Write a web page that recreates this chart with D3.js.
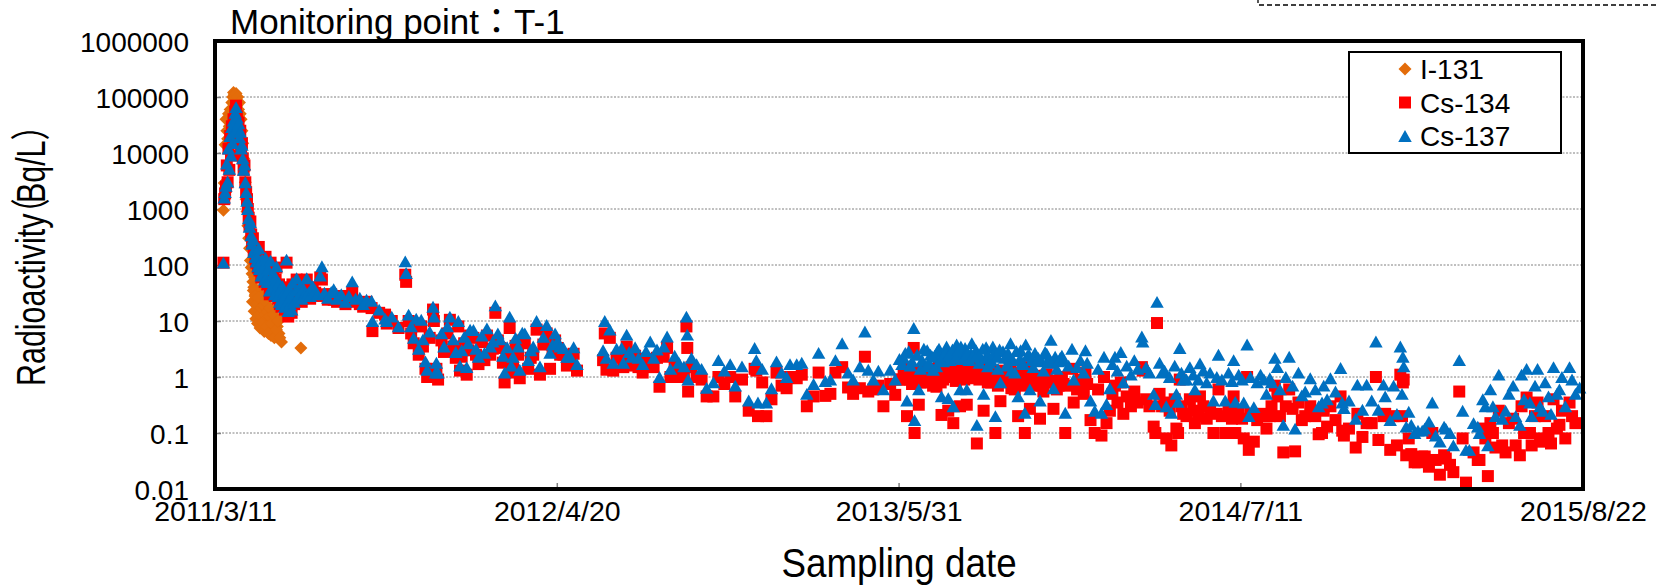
<!DOCTYPE html>
<html><head><meta charset="utf-8">
<script src="https://cdn.jsdelivr.net/npm/d3@7"></script>
<style>
body{margin:0;background:#fff}
svg{display:block}
text{font-family:"Liberation Sans",Arial,"Noto Sans CJK JP",sans-serif;fill:#000}
</style>
</head><body>
<svg id="chart" width="1657" height="586"></svg>
<script>
// ---------------- data ----------------
const titleText = "Monitoring point\uFF1AT-1";
const yTitleParts = ["Radioactivity", "\uFF08", "Bq/L", "\uFF09"];
const xTitle = "Sampling date";
const startDay = "2011-03-11";           // day 0 of the offsets below
const endDay = "2015-08-22";
const xTickDays = ["2011-03-11","2012-04-20","2013-05-31","2014-07-11","2015-08-22"];
const yTickValues = [0.01,0.1,1,10,100,1000,10000,100000,1000000];
const seriesNames = ["I-131","Cs-134","Cs-137"];
const seriesColors = ["#E36C0A","#FF0000","#0070C0"];

// [days after 2011-03-11, Bq/L]
const i131 = [[10,950],[11,2900],[12,14000],[13,40000],[14,25000],[15,18000],[16,50000],[17,30000],[18,60000],[19,45000],[20,80000],[21,100000],[22,120000],[23,110000],[24,90000],[25,115000],[26,70000],[27,100000],[28,60000],[29,80000],[30,50000],[31,40000],[32,25000],[33,15000],[34,8000],[35,5000],[36,3000],[37,1500],[38,900],[39,500],[40,300],[41,200],[42,120],[43,90],[44,70],[45,50],[46,40],[47,60],[48,30],[49,25],[50,35],[51,18],[52,22],[53,14],[54,30],[55,12],[56,18],[57,10],[58,15],[59,8],[60,12],[61,20],[62,9],[63,13],[64,7],[65,11],[66,8],[67,14],[68,6.5],[69,10],[70,7],[71,9],[72,5.5],[74,8],[76,6],[78,11],[79,4.2],[102,3.3],
[44.5,22],[45.5,35],[46.5,15],[47.5,28],[48.5,11],[49.5,20],[50.5,9],[51.5,26],[52.5,13],[53.5,7.5],[54.5,17],[55.5,24],[56.5,9.5],[57.5,19],[58.5,6.5],[59.5,13],[60.5,22],[61.5,8],[62.5,15],[63.5,6],[64.5,12],[65.5,17],[66.5,5.5],[67.5,9],[69.5,13],[70.5,5],[73,7],[75,10],[77,5]];

const cs134 = [[10,110],[11,1500],[12,1900],[13,2500],[14,6000],[15,3000],[16,12000],[17,5000],[18,20000],[19,9000],[20,30000],[21,15000],[22,40000],[23,25000],[24,55000],[25,70000],[26,45000],[27,30000],[28,35000],[29,20000],[30,25000],[31,12000],[32,15000],[33,8000],[34,5000],[35,6000],[36,3000],[37,2000],[38,1500],[39,1000],[40,700],[41,500],[42,600],[43,350],[44,250],[45,300],[46,180],[47,200],[48,130],[49,110],[50,150],[51,90],[52,210],[53,80],[54,120],[55,60],[56,130],[57,70],[58,90],[59,50],[60,140],[61,55],[62,45],
[63,80],[64,45],[65,30],[66,110],[67,50],[68,35],[69,65],[70,40],[71,28],[72,55],[73,90],[74,35],[75,25],[76,45],[77,20],[78,35],[79,18],[80,40],[81,22],[82,30],[83,16],[84,28],[85,110],[86,20],[87,12],[88,35],[89,18],[90,25],[91,14],[92,45],[94,20],[96,30],[97,55],[99,25],[101,40],[103,22],[105,35],[107,28],[109,55],[111,30],[113,25],[116,40],[119,32],[122,28],[125,60],[127,55],[130,30],[134,24],[138,30],[141,24],[145,22],[150,28],[155,20],[159,25],[163,32],[167,22],[172,20],[176,18],[180,22],[186,17],[187,6.6],[195,14],[202,13],[204,9],[210,10],[218,7.5],[226,67],[227,50],[230,10],[233,6],[236,4],[239,9],[242,2.5],[245,8],[247,3.5],[250,1.4],[252,1.0],[255,5],[259,16],[260,10],[262,1.1],[263,1.4],[265,0.9],[269,4.5],[272,2.8],[276,6],[279,10.5],[283,3.5],[286,2.2],[289,8],[291,1.3],[293,2.3],[296,4],[299,1.1],[301,3],[303,5.5],[307,5],[310,2.5],[313,1.7],[317,4.2],[320,2],[323,5.5],[327,2.5],[330,3.2],[333,14],[336,4.5],[339,3.3],[342,1.8],[344,0.8],[347,2.6],[350,7.5],[352,1.2],[354,1.5],[357,3.6],[360,2.5],[362,0.95],[365,4.5],[368,4],[372,1.4],[375,2.2],[378,2.5],[382,7],[386,1.1],[390,3.8],[394,6],[398,1.4],[401,2.8],[404,4.5],[407,3.3],[410,2.5],[414,2.5],[418,1.6],[422,1.7],[426,2.6],[430,1.3],
[461,2.0],[463,6],[465,1.35],[469,5],[473,1.3],[477,2.2],[483,2.6],[485,1.5],[489,3.5],[492,1.9],[495,1.6],[499,2.4],[503,1.5],[508,1.2],[512,2.1],[517,1.8],[521,1.5],[525,2.2],[528,0.67],[533,2.3],[537,3.3],[541,1.0],[546,1.6],[551,1.0],[557,1.1],[560,8],[561,3.3],[562,0.55],[566,1.5],[572,1.0],[578,0.9],[584,0.45],[592,0.45],[598,1.0],[605,0.75],[612,1.0],[618,0.45],[626,0.9],[634,0.25],[641,1.4],[643,1.3],[645,0.2],[650,0.8],[655,0.2],[661,0.4],[667,1.2],[673,0.7],[679,0.63],[683,1.0],[691,0.95],[697,1.1],[703,0.3],[711,0.45],[717,1.2],[725,0.46],[731,0.5],[737,1.2],[745,1.5],[752,0.65],[758,0.5],[766,0.63],[772,2.3],[776,0.55],[782,0.6],[788,0.7],[794,0.3],[802,0.75],[808,0.48],[816,0.9],[818,1.1],[820,1.5],[822,0.2],[826,0.9],[830,3.3],[831,0.1],[834,1.2],[836,0.32],[838,0.8],[840,1.0],[844,0.8],[846,1.4],[848,0.9],[850,1.2],[853,0.7],[855,1.2],[857,0.67],[860,1.5],[863,0.21],[865,0.9],[867,1.1],[869,1.6],[871,0.25],[873,1.0],[875,1.2],[877,0.15],[879,1.2],[881,1.7],[885,0.3],[887,1.0],[889,1.3],[891,1.5],[893,0.32],[896,1.0],[898,1.2],[899,1.6],[902,1.1],[904,1.3],[905,0.065],[908,0.9],[910,1.0],[913,0.25],[915,1.1],[916,1.5],[918,0.8],[920,0.9],[924,1.3],[927,0.1],[930,0.7],[933,0.37],[936,1.3],[940,0.8],[944,1.0],[945,1.6],[946,0.63],[950,0.6],[954,0.2],[957,1.2],[960,0.8],[962,0.1],[963,1.5],[965,1.0],[968,0.27],[972,0.7],[976,0.9],[980,0.18],[984,0.55],[988,1.1],[992,0.8],[993,1.8],[996,0.27],[1000,0.6],[1004,1.0],[1010,0.1],[1014,0.7],[1018,1.4],[1020,0.35],[1024,0.6],[1028,0.9],[1032,0.5],[1034,1.2],[1036,0.75],[1040,0.17],[1045,0.1],[1049,0.6],[1053,0.09],[1056,1.0],[1059,0.15],
[1063,0.25],[1066,0.5],[1069,0.7],[1072,0.35],[1076,0.8],[1079,0.22],[1083,0.45],[1088,0.3],[1092,0.55],[1096,0.35],[1101,1.5],[1102,1.3],[1106,0.4],[1110,0.3],[1115,0.13],[1117,0.1],[1119,9.2],[1122,0.5],[1125,0.3],[1128,0.35],[1130,0.08],[1134,0.25],[1136,0.06],[1140,0.4],[1142,0.12],[1144,0.1],[1146,0.9],[1148,0.3],[1150,0.22],[1154,0.2],[1158,0.4],[1162,0.25],[1164,0.15],[1168,0.2],[1170,0.45],[1174,0.3],[1178,0.18],[1182,0.25],[1186,0.1],[1190,0.22],[1192,0.6],[1196,0.2],[1200,0.1],[1204,0.28],[1208,0.18],[1210,0.45],[1212,0.1],[1216,0.25],[1220,0.18],[1222,0.08],[1226,1.0],[1228,0.05],[1230,0.22],[1234,0.07],[1238,0.17],[1242,0.22],[1246,0.2],[1249,0.12],
[1253,0.2],[1255,0.3],[1259,0.7],[1262,0.45],[1265,0.2],[1269,0.045],[1272,0.3],[1276,0.6],[1280,0.27],[1283,0.047],[1287,0.35],[1291,0.17],[1295,0.2],[1301,0.3],[1307,0.2],[1311,0.095],[1315,0.1],[1317,0.25],[1321,0.13],[1325,0.3],[1331,0.17],[1337,0.45],[1339,0.11],[1341,0.09],[1347,0.12],[1355,0.055],[1357,0.22],[1363,0.085],[1368,0.15],[1374,0.15],[1379,1.0],[1382,0.075],[1388,0.2],[1390,0.22],[1396,0.05],[1400,0.2],[1404,0.06],[1408,1.1],[1410,0.2],[1411,0.8],[1412,0.9],
[1415,0.04],[1418,0.08],[1421,0.042],[1425,0.03],[1429,0.03],[1434,0.038],[1437,0.038],[1442,0.025],[1446,0.1],[1450,0.033],[1455,0.018],[1460,0.04],[1462,0.035],[1467,0.027],[1471,0.02],[1478,0.55],[1482,0.08],[1486,0.013],[1495,0.045],[1500,0.033],[1502,0.033],[1506,0.12],[1509,0.08],[1512,0.017],[1515,0.15],[1518,0.1],[1521,0.055],[1525,0.25],[1529,0.06],[1533,0.045],[1537,0.15],[1542,0.18],[1545,0.06],[1550,0.04],[1552,0.3],[1555,0.1],[1558,0.43],[1562,0.1],[1564,0.06],[1568,0.2],[1571,0.35],[1574,0.08],[1577,0.07],[1580,0.2],[1584,0.1],[1587,0.065],[1590,0.4],[1594,0.12],[1597,0.14],[1600,0.25],[1604,0.08],[1609,0.35],[1612,0.2],[1616,0.15],
[813,0.9],[824,1.1],[828,0.75],[842,1.3],[852,0.9],[858,1.15],[862,0.8],[868,1.1],[872,1.0],[876,1.25],[880,0.85],[883,1.2],[886,1.4],[890,0.9],[894,1.05],[900,0.95],[906,1.0],[912,1.3],[919,0.95],[922,0.8],[926,1.1],[929,0.9],[932,1.2],[938,0.85],[942,1.05],[948,0.8],[952,1.1],[956,0.85],[959,0.7],[967,0.95],[970,0.8],[974,1.05],[978,0.85],[982,0.7],[986,1.05],[990,0.8],[998,0.85],[1002,0.7],[1006,0.9],[1008,0.75]];

const cs137 = [[10,110],[11,1600],[12,2000],[13,2600],[14,6500],[15,3100],[16,12000],[17,5200],[18,20000],[19,9000],[20,29000],[21,15000],[22,38000],[23,24000],[24,52000],[25,66000],[26,43000],[27,29000],[28,34000],[29,19000],[30,24000],[31,12000],[32,14000],[33,8000],[34,5000],[35,6200],[36,3000],[37,2000],[38,1400],[39,1000],[40,680],[41,480],[42,580],[43,340],[44,240],[45,290],[46,170],[47,190],[48,140],[49,115],[50,140],[51,95],[52,200],[53,85],[54,115],[55,65],[56,125],[57,75],[58,95],[59,55],[60,135],[61,60],[62,50],
[63,85],[64,50],[65,35],[66,120],[67,55],[68,38],[69,70],[70,45],[71,30],[72,60],[73,95],[74,38],[75,28],[76,48],[77,22],[78,38],[79,20],[80,42],[81,25],[82,32],[83,18],[84,30],[85,125],[86,22],[87,15],[88,38],[89,20],[90,28],[91,16],[92,48],[94,22],[96,35],[97,58],[99,28],[101,42],[103,25],[105,38],[107,30],[109,58],[111,32],[113,28],[116,42],[119,35],[122,30],[125,65],[127,95],[130,32],[134,26],[138,33],[141,37],[145,25],[150,30],[155,22],[159,28],[163,51],[167,25],[172,26],[176,20],[180,24],[186,23],[187,10],[195,16],[202,11],[204,10],[210,12],[218,8],[226,116],[227,72],[230,13],[233,8],[236,5],[239,11],[242,3.2],[245,10.5],[247,4.7],[250,1.9],[252,1.35],[255,6.5],[259,18],[260,12],[262,1.2],[263,1.8],[265,1.2],[269,6],[272,3.5],[276,8],[279,12],[283,4.7],[286,2.8],[289,10],[291,1.6],[293,3],[296,5.2],[299,1.5],[301,4],[303,7],[307,6.9],[310,3.2],[313,2.3],[317,5.5],[320,2.7],[323,7.4],[327,3.5],[330,4.3],[333,19],[336,6],[339,4.7],[342,2.4],[344,1.2],[347,3.4],[350,12],[352,1.6],[354,2.3],[357,5],[360,3.5],[362,1.35],[365,6.2],[368,6],[372,2],[375,3],[378,3.5],[382,10],[386,1.55],[390,5.2],[394,8.5],[398,2.7],[401,3.8],[404,6],[407,4.4],[410,3.5],[414,3.3],[418,2.3],[422,2.3],[426,3.4],[430,1.7],
[461,3.0],[463,10],[465,2.2],[469,7],[473,1.8],[477,3.2],[483,3.3],[485,1.8],[489,5.7],[492,2.8],[495,2.3],[499,3.4],[503,2.2],[508,1.7],[512,2.9],[517,4.3],[521,2.2],[525,3.1],[528,1.0],[533,3.5],[537,5.3],[541,1.4],[546,2.4],[551,1.8],[557,1.55],[560,12],[561,5.7],[562,0.9],[566,2.2],[572,1.7],[578,1.4],[584,0.64],[592,0.8],[598,2.0],[605,1.3],[612,1.7],[618,0.7],[626,1.55],[634,0.38],[641,3.3],[643,2.0],[645,0.35],[650,1.4],[655,0.35],[661,0.63],[667,1.9],[673,1.2],[679,1.0],[683,1.7],[691,1.7],[697,1.8],[703,0.5],[711,0.75],[717,2.7],[725,0.85],[731,0.9],[737,2.0],[745,4.0],[752,1.2],[758,0.9],[766,1.55],[772,6.5],[776,1.35],[782,0.9],[788,1.3],[794,0.6],[802,1.35],[808,0.9],[816,1.7],[818,2.2],[820,2.7],[822,0.38],[826,1.6],[830,7.5],[831,0.17],[834,2.5],[836,0.6],[838,1.4],[840,2.0],[844,1.55],[846,3.0],[848,1.8],[850,2.5],[853,1.35],[855,2.4],[857,1.55],[860,3.2],[863,0.45],[865,1.9],[867,2.3],[869,3.5],[871,0.42],[873,2.0],[875,2.6],[877,0.3],[879,2.7],[881,3.8],[885,0.6],[887,2.1],[889,2.8],[891,3.3],[893,0.6],[896,2.0],[898,2.6],[899,4.0],[902,2.3],[904,3.0],[905,0.14],[908,1.8],[910,2.2],[913,0.5],[915,2.2],[916,3.4],[918,1.55],[920,1.8],[924,3.5],[927,0.2],[930,1.4],[933,0.8],[936,2.9],[940,1.6],[944,2.2],[945,4.0],[946,1.3],[950,1.2],[954,0.45],[957,3.0],[960,1.7],[962,0.23],[963,3.8],[965,2.4],[968,0.6],[972,1.5],[976,2.0],[980,0.38],[984,1.3],[988,2.6],[992,1.8],[993,4.6],[996,0.63],[1000,1.4],[1004,2.2],[1010,0.23],[1014,1.6],[1018,3.2],[1020,0.9],[1024,1.5],[1028,2.0],[1032,1.2],[1034,3.0],[1036,1.8],[1040,0.38],[1045,0.25],[1049,1.4],[1053,0.23],[1056,2.3],[1059,0.33],
[1063,0.63],[1066,1.7],[1069,2.3],[1072,1.3],[1076,2.8],[1079,0.8],[1083,1.6],[1088,1.1],[1092,2.0],[1096,1.4],[1101,5.3],[1102,4.3],[1106,1.5],[1110,1.2],[1115,0.5],[1117,0.33],[1119,22],[1122,1.8],[1125,1.2],[1128,1.3],[1130,0.3],[1134,1.0],[1136,0.23],[1140,1.6],[1142,0.5],[1144,0.36],[1146,3.3],[1148,1.2],[1150,0.9],[1154,0.9],[1158,1.5],[1162,1.1],[1164,0.6],[1168,0.9],[1170,1.75],[1174,1.3],[1178,0.8],[1182,1.2],[1186,0.38],[1190,1.0],[1192,2.5],[1196,0.9],[1200,0.38],[1204,1.2],[1208,0.85],[1210,2.0],[1212,0.36],[1216,1.1],[1220,0.9],[1222,0.35],[1226,3.8],[1228,0.2],[1230,1.0],[1234,0.29],[1238,0.8],[1242,1.1],[1246,0.9],[1249,0.5],
[1253,0.95],[1255,0.8],[1259,2.2],[1262,1.5],[1265,0.6],[1269,0.14],[1272,1.0],[1276,2.3],[1280,0.7],[1283,0.12],[1287,1.2],[1291,0.47],[1295,0.55],[1301,0.95],[1307,0.6],[1311,0.3],[1315,0.35],[1317,0.7],[1321,0.4],[1325,0.95],[1331,0.55],[1337,1.45],[1339,0.35],[1341,0.28],[1347,0.38],[1355,0.18],[1357,0.73],[1363,0.26],[1368,0.73],[1374,0.38],[1379,4.3],[1382,0.26],[1388,0.73],[1390,0.45],[1396,0.17],[1400,0.7],[1404,0.22],[1408,3.5],[1410,0.5],[1411,2.3],[1412,1.55],
[1415,0.13],[1418,0.24],[1421,0.14],[1425,0.1],[1429,0.11],[1434,0.11],[1437,0.12],[1442,0.16],[1446,0.35],[1450,0.09],[1455,0.07],[1460,0.13],[1462,0.12],[1467,0.1],[1471,0.06],[1478,2.0],[1482,0.25],[1486,0.05],[1490,0.05],[1495,0.15],[1500,0.13],[1502,0.1],[1506,0.4],[1509,0.3],[1512,0.06],[1515,0.6],[1518,0.3],[1521,0.2],[1525,1.1],[1529,0.18],[1533,0.25],[1537,0.5],[1542,0.7],[1545,0.2],[1550,0.14],[1552,1.1],[1555,0.4],[1558,1.4],[1562,0.35],[1564,0.2],[1568,0.7],[1571,1.4],[1574,0.3],[1577,0.25],[1580,0.8],[1584,0.45],[1587,0.22],[1590,1.5],[1594,0.5],[1597,0.6],[1600,1.0],[1604,0.3],[1609,1.5],[1612,0.9],[1616,0.5],[1621,0.65],
[813,2.1],[824,2.9],[828,1.9],[842,3.2],[852,2.3],[858,2.9],[862,2.0],[868,2.8],[872,2.5],[876,3.1],[880,2.2],[883,3.0],[886,3.5],[890,2.3],[894,2.7],[900,2.4],[906,2.6],[912,3.2],[919,2.4],[922,2.0],[926,2.8],[929,2.3],[932,3.1],[938,2.2],[942,2.7],[948,2.0],[952,2.9],[956,2.1],[959,1.8],[967,2.5],[970,2.0],[974,2.7],[978,2.2],[982,1.9],[986,2.8],[990,2.1],[998,2.3],[1002,1.9],[1006,2.4],[1008,2.0]];

// ---------------- drawing ----------------
const plot = {left: 215, right: 1583, top: 41, bottom: 489};
const parse = d3.timeParse("%Y-%m-%d");
const t0 = parse(startDay), t1 = parse(endDay);
const x = d3.scaleTime().domain([t0, t1]).range([plot.left, plot.right]);
const y = d3.scaleLog().domain([0.01, 1000000]).range([plot.bottom, plot.top]);
const dayToDate = d => d3.timeHour.offset(t0, Math.round(d * 24));

const svg = d3.select("#chart");

// dashed box peeking at top right
svg.append("path").attr("d", "M1258,-2V5H1662")
  .attr("fill", "none").attr("stroke", "#000").attr("stroke-width", 1.3)
  .attr("stroke-dasharray", "5,3");

// gridlines
svg.append("g").selectAll("line")
  .data(yTickValues.filter(v => v > 0.01 && v < 1000000))
  .join("line")
  .attr("x1", plot.left).attr("x2", plot.right)
  .attr("y1", d => y(d)).attr("y2", d => y(d))
  .attr("stroke", "#808080").attr("stroke-width", 1).attr("stroke-dasharray", "2,1.5");

// y axis
const yAxis = d3.axisLeft(y).tickValues(yTickValues)
  .tickFormat(d => String(d)).tickSizeInner(-6).tickSizeOuter(0).tickPadding(26);
const gy = svg.append("g").attr("transform", `translate(${plot.left},0)`).call(yAxis);
gy.select(".domain").remove();
gy.selectAll(".tick line").attr("stroke", "#808080").attr("stroke-width", 1.5);
gy.selectAll(".tick text").attr("font-size", 28).attr("dy", "0.36em");

// x axis
const xAxis = d3.axisBottom(x).tickValues(xTickDays.map(parse))
  .tickFormat(d3.timeFormat("%Y/%-m/%-d")).tickSizeInner(-6).tickSizeOuter(0).tickPadding(12);
const gx = svg.append("g").attr("transform", `translate(0,${plot.bottom})`).call(xAxis);
gx.select(".domain").remove();
gx.selectAll(".tick line").attr("stroke", "#808080").attr("stroke-width", 1.5);
gx.selectAll(".tick text").attr("font-size", 28.5);

// marker shapes (size = overall width in px)
const shapes = [
  {draw(ctx, s){ const r = s/2; ctx.moveTo(0,-r); ctx.lineTo(r,0); ctx.lineTo(0,r); ctx.lineTo(-r,0); ctx.closePath(); }},
  {draw(ctx, s){ const h = s/2; ctx.moveTo(-h,-h); ctx.lineTo(h,-h); ctx.lineTo(h,h); ctx.lineTo(-h,h); ctx.closePath(); }},
  {draw(ctx, s){ const w = s/2, h = s*0.44; ctx.moveTo(0,-h); ctx.lineTo(w,h); ctx.lineTo(-w,h); ctx.closePath(); }}
];
const sizes = [13, 12, 13.5];
const seriesData = [i131, cs134, cs137];

seriesData.forEach((data, i) => {
  const sym = d3.symbol().type(shapes[i]).size(sizes[i]);
  svg.append("g").selectAll("path")
    .data(data.filter(d => d[1] != null))
    .join("path")
    .attr("d", sym)
    .attr("transform", d => `translate(${x(dayToDate(d[0]))},${y(d[1])})`)
    .attr("fill", seriesColors[i]);
});

// plot frame
svg.append("rect")
  .attr("x", plot.left).attr("y", plot.top)
  .attr("width", plot.right - plot.left).attr("height", plot.bottom - plot.top)
  .attr("fill", "none").attr("stroke", "#000").attr("stroke-width", 4);

// legend
const lg = svg.append("g");
lg.append("rect").attr("x", 1349).attr("y", 52).attr("width", 212).attr("height", 101)
  .attr("fill", "#fff").attr("stroke", "#000").attr("stroke-width", 2);
seriesNames.forEach((name, i) => {
  const cy = 69 + i * 33.5;
  lg.append("path").attr("d", d3.symbol().type(shapes[i]).size(sizes[i])())
    .attr("transform", `translate(1405,${cy})`).attr("fill", seriesColors[i]);
  lg.append("text").attr("x", 1420).attr("y", cy + 10).attr("font-size", 28).text(name);
});

// chart title
svg.append("text").attr("x", 230).attr("y", 34).attr("font-size", 35).text(titleText);

// x axis title
svg.append("text")
  .attr("transform", `translate(${(plot.left + plot.right) / 2},577) scale(0.92,1)`)
  .attr("text-anchor", "middle").attr("font-size", 40).text(xTitle);

// y axis title (condensed along its run)
const yt = svg.append("text")
  .attr("transform", `translate(45,248) rotate(-90) scale(0.76,1)`)
  .attr("text-anchor", "middle").attr("font-size", 40);
yt.append("tspan").text(yTitleParts[0]);
yt.append("tspan").attr("dx", "-0.5em").text(yTitleParts[1]);
yt.append("tspan").attr("dx", "-0.15em").text(yTitleParts[2]);
yt.append("tspan").text(yTitleParts[3]);
</script>
</body></html>
